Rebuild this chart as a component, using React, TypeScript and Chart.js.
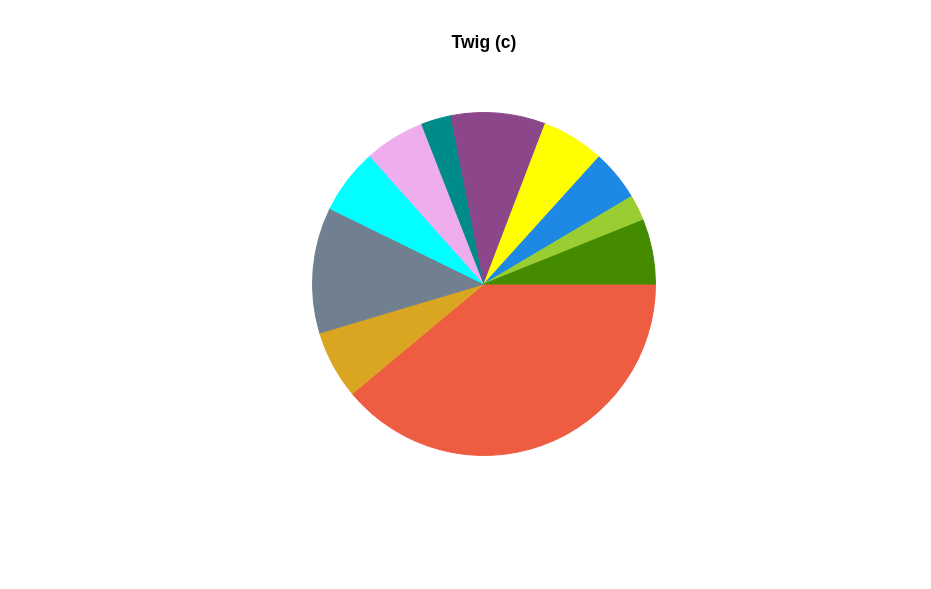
import React, { useEffect, useRef } from "react";
import { Chart, registerables } from "chart.js";

Chart.register(...registerables);

// Slices in R order (counter-clockwise from 3 o'clock)
const categories = ["A", "B", "C", "D", "E", "F", "G", "H", "I", "J", "K"];
const values = [6.08, 2.44, 4.78, 5.89, 8.89, 2.83, 5.67, 6.17, 11.86, 6.44, 38.94];
const colors = [
  "#458B00", "#9ACD32", "#1E88E5", "#FFFF00", "#8B4789", "#008B8B",
  "#EEAEEE", "#00FFFF", "#708090", "#DAA520", "#EE5C42",
];
const title = "Twig (c)";

export default function App() {
  const ref = useRef<HTMLCanvasElement | null>(null);
  useEffect(() => {
    document.body.style.margin = "0";
    const ctx = ref.current!;
    // Chart.js draws clockwise; reverse to emulate R's counter-clockwise order
    const labels = [...categories].reverse();
    const data = [...values].reverse();
    const bg = [...colors].reverse();
    const chart = new Chart(ctx, {
      type: "pie",
      data: {
        labels,
        datasets: [
          {
            data,
            backgroundColor: bg,
            borderColor: bg,
            borderWidth: 1,
          },
        ],
      },
      options: {
        animation: false,
        responsive: false,
        rotation: 90,
        layout: { padding: { left: 312, right: 275, top: 0, bottom: 75 } },
        plugins: {
          legend: { display: false },
          tooltip: { enabled: false },
          title: {
            display: true,
            text: title,
            color: "#000",
            font: { family: "'Liberation Sans', Arial, sans-serif", size: 17.5, weight: "bold", lineHeight: 1.2 },
            padding: { top: 33, bottom: 0 },
          },
        },
      },
    });
    return () => chart.destroy();
  }, []);
  return (
    <div style={{ position: "fixed", left: 0, top: 0, width: 931, height: 589, background: "#fff" }}>
      <canvas ref={ref} width={931} height={589} style={{ width: 931, height: 589 }} />
    </div>
  );
}
